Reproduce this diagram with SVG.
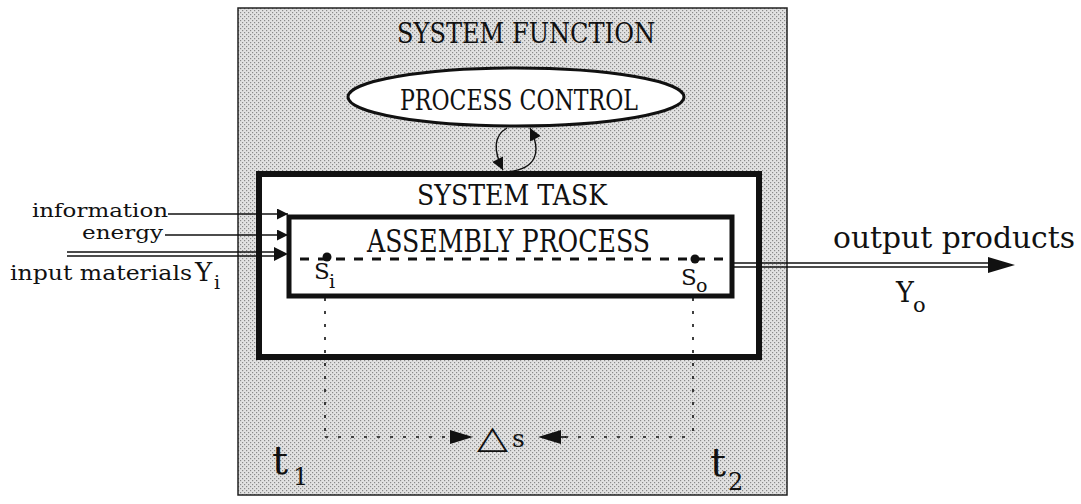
<svg xmlns="http://www.w3.org/2000/svg" width="1081" height="504" viewBox="0 0 1081 504">
<defs>
<pattern id="stip" width="4" height="4" patternUnits="userSpaceOnUse">
<rect width="4" height="4" fill="#e2e2e2"/>
<rect x="0" y="0" width="1.2" height="1.2" fill="#8a8a8a"/>
<rect x="2" y="2" width="1.2" height="1.2" fill="#8a8a8a"/>
</pattern>
<marker id="ah" viewBox="0 0 10 10" refX="10" refY="5" markerWidth="16" markerHeight="12" markerUnits="userSpaceOnUse" orient="auto">
<path d="M0,0 L10,5 L0,10 Z" fill="#111"/>
</marker>
<marker id="ahs" viewBox="0 0 10 10" refX="10" refY="5" markerWidth="14" markerHeight="11" markerUnits="userSpaceOnUse" orient="auto">
<path d="M0,0 L10,5 L0,10 Z" fill="#111"/>
</marker>
</defs>
<style>
.t{font-family:"DejaVu Serif","Liberation Serif",serif;fill:#111}
.box{fill:#fff;stroke:#111}
.thin{stroke:#111;stroke-width:1.4;fill:none}
.dot{stroke:#111;stroke-width:1.6;fill:none;stroke-dasharray:3 10}
</style>
<rect width="1081" height="504" fill="#fff"/>

<g id="system-function">
<rect x="238" y="8" width="549" height="487" fill="url(#stip)" stroke="#222" stroke-width="1.5"/>
<text class="t" x="397" y="43" font-size="28" textLength="258" lengthAdjust="spacingAndGlyphs">SYSTEM FUNCTION</text>
</g>

<g id="process-control">
<ellipse cx="516" cy="97" rx="168" ry="29" fill="#fff" stroke="#111" stroke-width="3"/>
<text class="t" x="400" y="110" font-size="28" textLength="238" lengthAdjust="spacingAndGlyphs">PROCESS CONTROL</text>
</g>

<g id="system-task">
<rect class="box" x="259" y="174" width="500" height="183" stroke-width="6"/>
<text class="t" x="417" y="205" font-size="28" textLength="190" lengthAdjust="spacingAndGlyphs">SYSTEM TASK</text>
</g>

<g id="assembly-process">
<rect class="box" x="289" y="217" width="443" height="79" stroke-width="5"/>
<text class="t" x="367" y="252" font-size="32" textLength="283" lengthAdjust="spacingAndGlyphs">ASSEMBLY PROCESS</text>
<line x1="300" y1="259" x2="728" y2="259" stroke="#111" stroke-width="3" stroke-dasharray="9 9"/>
<circle cx="327" cy="257" r="4.5" fill="#111"/>
<circle cx="695" cy="259" r="4.5" fill="#111"/>
<text class="t" x="314" y="279" font-size="23">S</text>
<text class="t" x="329" y="288" font-size="19">i</text>
<text class="t" x="681" y="285" font-size="23">S</text>
<text class="t" x="696" y="292" font-size="19">o</text>
</g>

<g id="labels">
<text class="t" x="32" y="217" font-size="19" textLength="136" lengthAdjust="spacingAndGlyphs">information</text>
<text class="t" x="82" y="239" font-size="19" textLength="81" lengthAdjust="spacingAndGlyphs">energy</text>
<text class="t" x="10" y="280" font-size="21" textLength="182" lengthAdjust="spacingAndGlyphs">input materials</text>
<text class="t" x="195" y="281" font-size="26">Y</text>
<text class="t" x="214" y="289" font-size="19">i</text>
<text class="t" x="833" y="248" font-size="29" textLength="242" lengthAdjust="spacingAndGlyphs">output products</text>
<text class="t" x="896" y="302" font-size="27">Y</text>
<text class="t" x="913" y="312" font-size="21">o</text>
<text class="t" x="272" y="474" font-size="40">t</text>
<text class="t" x="293" y="485" font-size="24">1</text>
<text class="t" x="710" y="476" font-size="40">t</text>
<text class="t" x="728" y="490" font-size="24">2</text>
<text x="477" y="448" font-size="32" font-family="DejaVu Sans, sans-serif" fill="#111" textLength="31" lengthAdjust="spacingAndGlyphs">△</text>
<text class="t" x="512" y="447" font-size="25">s</text>
</g>

<g id="connectors">
<path d="M507,128 C493,136 494,152 503,170" class="thin" stroke-width="2" marker-end="url(#ah)"/>
<path d="M505,172 C537,170 542,152 530,128" class="thin" stroke-width="2" marker-end="url(#ah)"/>
<line x1="168" y1="214" x2="288" y2="214" class="thin" marker-end="url(#ahs)"/>
<line x1="165" y1="235" x2="288" y2="235" class="thin" stroke-width="2.6" marker-end="url(#ahs)"/>
<line x1="67" y1="252" x2="276" y2="252" class="thin" stroke-width="1.3"/>
<line x1="67" y1="256" x2="276" y2="256" class="thin" stroke-width="1.3"/>
<path d="M274,247 L288,254 L274,261 Z" fill="#111"/>
<line x1="732" y1="263" x2="995" y2="263" class="thin" stroke-width="1.4"/>
<line x1="732" y1="267" x2="995" y2="267" class="thin" stroke-width="1.4"/>
<path d="M988,257 L1015,265 L988,273 Z" fill="#111"/>
<line x1="325" y1="298" x2="325" y2="437" class="dot"/>
<line x1="693" y1="298" x2="693" y2="437" class="dot"/>
<line x1="325" y1="437" x2="452" y2="437" class="dot"/>
<line x1="565" y1="437" x2="693" y2="437" class="dot"/>
<path d="M450,430 L473,437 L450,444 Z" fill="#111"/>
<path d="M561,430 L538,437 L561,444 Z" fill="#111"/>
<line x1="558" y1="437" x2="566" y2="437" stroke="#111" stroke-width="1.6"/>
</g>
</svg>
